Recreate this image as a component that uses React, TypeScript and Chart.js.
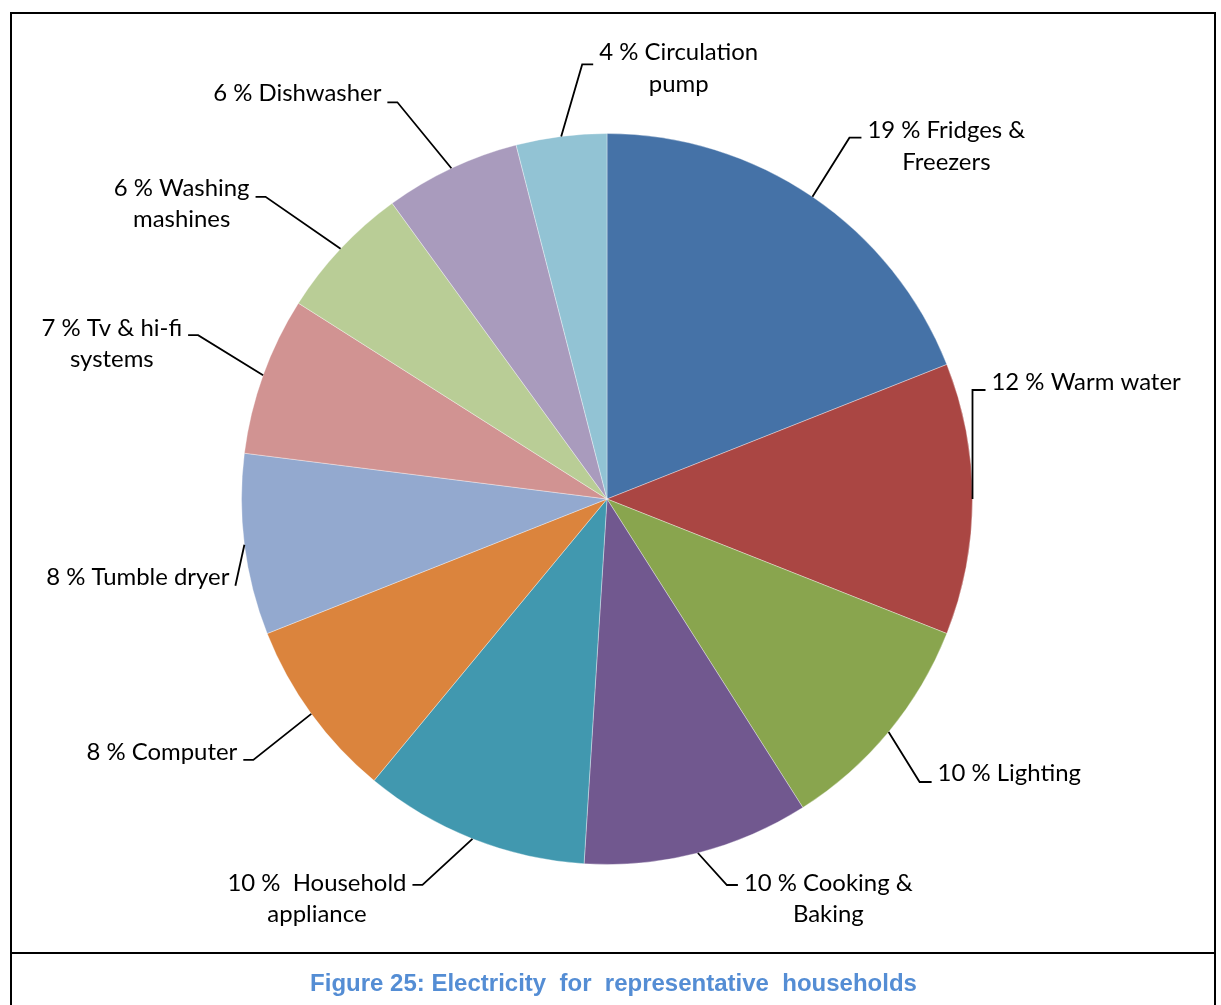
import React, { useEffect, useRef } from "react";
import { Chart, registerables } from "chart.js";

Chart.register(...registerables);

// ---- Data ----
const categories = [
  "Fridges &\nFreezers",
  "Warm water",
  "Lighting",
  "Cooking &\nBaking",
  " Household\nappliance",
  "Computer",
  "Tumble dryer",
  "Tv & hi-fi\nsystems",
  "Washing\nmashines",
  "Dishwasher",
  "Circulation\npump",
];
const shares = [19, 12, 10, 10, 10, 8, 8, 7, 6, 6, 4];
const sliceColors = [
  "#4572A7",
  "#AA4643",
  "#89A54E",
  "#71588F",
  "#4198AF",
  "#DB843D",
  "#93A9CF",
  "#D19392",
  "#B9CD96",
  "#A99BBD",
  "#92C3D4",
];
const caption = "Figure 25: Electricity  for  representative  households";

// ---- Label layout (offsets of leader elbows from each slice's outer mid-point) ----
type Side = "left" | "right";
const labelLayout: { dx: number; dy: number; h: number; side: Side; ty: number }[] = [
  { dx: 37, dy: -59, h: 12, side: "right", ty: -7 },
  { dx: 0, dy: -109, h: 13, side: "right", ty: -8 },
  { dx: 31, dy: 50, h: 12, side: "right", ty: -9 },
  { dx: 29, dy: 32, h: 11, side: "right", ty: -2 },
  { dx: -50, dy: 46, h: 10, side: "left", ty: -2 },
  { dx: -58, dy: 46, h: 10, side: "left", ty: -8 },
  { dx: -9, dy: 41, h: 0, side: "left", ty: -9 },
  { dx: -65, dy: -40, h: 10, side: "left", ty: -7 },
  { dx: -75, dy: -52, h: 10, side: "left", ty: -9 },
  { dx: -54, dy: -66, h: 10, side: "left", ty: -9 },
  { dx: 21, dy: -72, h: 11, side: "right", ty: -12 },
];

const LABEL_FONT = "Lato";

const leaderPlugin = {
  id: "leaderLabels",
  afterDatasetsDraw(chart: any) {
    const ctx: CanvasRenderingContext2D = chart.ctx;
    const meta = chart.getDatasetMeta(0);
    ctx.save();
    ctx.font = `26px ${LABEL_FONT}`;
    const ref = ctx.measureText("19 % Fridges &").width;
    const size = (26 * 158) / ref;
    const lineH = 31.5;
    ctx.font = `${size}px ${LABEL_FONT}`;
    ctx.fillStyle = "#000";
    ctx.strokeStyle = "#000";
    ctx.lineWidth = 1.8;
    ctx.textAlign = "center";
    ctx.textBaseline = "middle";
    meta.data.forEach((arc: any, i: number) => {
      const p = arc.getProps(["x", "y", "startAngle", "endAngle", "outerRadius"], true);
      const mid = (p.startAngle + p.endAngle) / 2;
      const ax = p.x + Math.cos(mid) * p.outerRadius;
      const ay = p.y + Math.sin(mid) * p.outerRadius;
      const L = labelLayout[i];
      const ex = ax + L.dx;
      const ey = ay + L.dy;
      const hx = L.side === "right" ? ex + L.h : ex - L.h;
      ctx.beginPath();
      ctx.moveTo(ax, ay);
      ctx.lineTo(ex, ey);
      ctx.lineTo(hx, ey);
      ctx.stroke();
      const lines = `${shares[i]} % ${categories[i]}`.split("\n");
      const w = Math.max(...lines.map((l) => ctx.measureText(l).width));
      const gap = 6;
      const cx = L.side === "right" ? hx + gap + w / 2 : hx - gap - w / 2;
      lines.forEach((l, k) => {
        ctx.fillText(l, cx, ey + L.ty + k * lineH);
      });
    });
    ctx.restore();
  },
};

export default function App() {
  const canvasRef = useRef<HTMLCanvasElement | null>(null);

  useEffect(() => {
    if (!canvasRef.current) return;
    const chart = new Chart(canvasRef.current, {
      type: "pie",
      data: {
        labels: categories.map((c) => c.replace("\n", " ").trim()),
        datasets: [
          {
            data: shares,
            backgroundColor: sliceColors,
            borderColor: "rgba(255,255,255,0.35)",
            borderWidth: 1,
          },
        ],
      },
      options: {
        animation: false,
        responsive: true,
        maintainAspectRatio: false,
        events: [],
        layout: { padding: { left: 241, right: 248, top: 132, bottom: 139 } },
        plugins: {
          legend: { display: false },
          tooltip: { enabled: false },
          title: { display: false },
        },
      },
      plugins: [leaderPlugin],
    });
    return () => chart.destroy();
  }, []);

  return (
    <div
      style={{
        position: "fixed",
        left: 0,
        top: 0,
        width: 1221,
        height: 1005,
        overflow: "hidden",
        background: "#fff",
      }}
    >
      <div
        style={{
          position: "absolute",
          left: 10,
          top: 12,
          width: 1206,
          height: 942,
          boxSizing: "border-box",
          border: "2px solid #000",
        }}
      />
      <div
        style={{
          position: "absolute",
          left: 10,
          top: 952,
          width: 1206,
          height: 80,
          boxSizing: "border-box",
          borderLeft: "2px solid #000",
          borderRight: "2px solid #000",
        }}
      />
      <div style={{ position: "absolute", left: 0, top: 0, width: 1221, height: 1005 }}>
        <canvas ref={canvasRef} />
      </div>
      <div
        style={{
          position: "absolute",
          left: 0,
          top: 968,
          width: 1227,
          textAlign: "center",
          whiteSpace: "pre",
          fontFamily: "'Liberation Sans', Arial, sans-serif",
          fontWeight: "bold",
          fontSize: 24,
          lineHeight: "30px",
          color: "#548DD4",
        }}
      >
        {caption}
      </div>
    </div>
  );
}
